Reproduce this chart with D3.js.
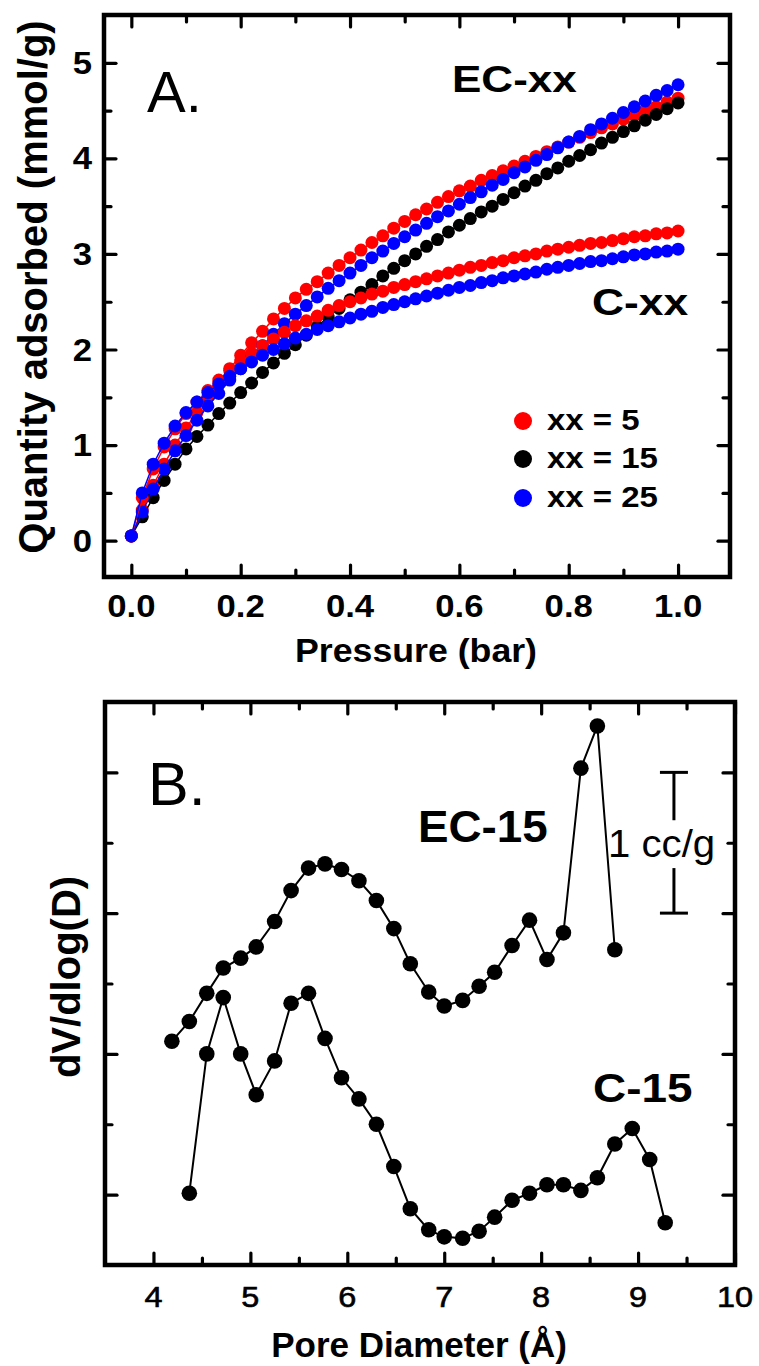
<!DOCTYPE html>
<html>
<head>
<meta charset="utf-8">
<script src="https://cdn.jsdelivr.net/npm/d3@7"></script>
<style>
  html, body { margin: 0; padding: 0; background: #fff; }
  svg { display: block; font-family: "Liberation Sans", Arial, Helvetica, sans-serif; }
</style>
</head>
<body>
<svg id="chart" width="759" height="1366"></svg>
<script>
// ---------- Panel A data (CO2 isotherms) ----------
const pressure = [0,0.02,0.04,0.06,0.08,0.10,0.12,0.14,0.16,0.18,0.20,0.22,0.24,0.26,0.28,0.30,0.32,0.34,0.36,0.38,0.40,0.42,0.44,0.46,0.48,0.50,0.52,0.54,0.56,0.58,0.60,0.62,0.64,0.66,0.68,0.70,0.72,0.74,0.76,0.78,0.80,0.82,0.84,0.86,0.88,0.90,0.92,0.94,0.96,0.98,1.00];
const ec5  = [0.05,0.32,0.58,0.80,1.00,1.18,1.34,1.50,1.65,1.80,1.94,2.07,2.19,2.32,2.43,2.54,2.63,2.71,2.80,2.88,2.96,3.04,3.12,3.19,3.27,3.34,3.41,3.47,3.54,3.60,3.66,3.71,3.77,3.82,3.87,3.92,3.97,4.02,4.07,4.12,4.17,4.22,4.27,4.32,4.36,4.41,4.45,4.50,4.54,4.59,4.63];
const ec15 = [0.05,0.25,0.45,0.63,0.80,0.96,1.09,1.21,1.33,1.44,1.55,1.65,1.76,1.86,1.96,2.05,2.15,2.24,2.34,2.43,2.52,2.60,2.68,2.77,2.85,2.93,3.00,3.08,3.15,3.23,3.30,3.37,3.44,3.50,3.57,3.64,3.71,3.77,3.84,3.90,3.97,4.03,4.09,4.16,4.22,4.28,4.34,4.40,4.46,4.52,4.58];
const ec25 = [0.05,0.30,0.54,0.75,0.94,1.10,1.26,1.41,1.54,1.68,1.80,1.92,2.04,2.16,2.27,2.37,2.46,2.55,2.64,2.72,2.80,2.88,2.96,3.03,3.11,3.18,3.25,3.32,3.39,3.45,3.52,3.59,3.65,3.72,3.78,3.85,3.91,3.98,4.04,4.11,4.17,4.23,4.30,4.36,4.42,4.48,4.54,4.60,4.66,4.71,4.77];
const c5   = [0.05,0.45,0.75,0.98,1.17,1.33,1.45,1.57,1.68,1.78,1.88,1.96,2.04,2.11,2.18,2.25,2.30,2.35,2.41,2.46,2.50,2.54,2.58,2.61,2.65,2.68,2.71,2.74,2.77,2.80,2.83,2.86,2.88,2.91,2.93,2.96,2.98,3.00,3.03,3.05,3.07,3.09,3.11,3.12,3.14,3.16,3.18,3.19,3.21,3.22,3.24];
const c25  = [0.05,0.50,0.80,1.02,1.20,1.34,1.45,1.55,1.64,1.72,1.80,1.87,1.94,2.00,2.06,2.12,2.16,2.21,2.25,2.29,2.33,2.37,2.40,2.44,2.47,2.50,2.53,2.56,2.59,2.62,2.65,2.67,2.70,2.72,2.75,2.77,2.79,2.81,2.84,2.86,2.88,2.90,2.92,2.93,2.95,2.97,2.99,3.00,3.02,3.03,3.05];
const seriesNamesA = ["EC-5","EC-15","EC-25","C-5","C-25"];
const seriesColorsA = ["#ff0000","#000000","#0000ff","#ff0000","#0000ff"];
const legendLabels = ["xx = 5","xx = 15","xx = 25"];
const legendColors = ["#ff0000","#000000","#0000ff"];
const xTicksA = ["0.0","0.2","0.4","0.6","0.8","1.0"];
const yTicksA = ["0","1","2","3","4","5"];

// ---------- Panel B data (pore size distribution) ----------
const ecDiam = [4.19,4.37,4.55,4.72,4.90,5.06,5.25,5.42,5.60,5.77,5.94,6.12,6.30,6.48,6.65,6.84,7.00,7.19,7.36,7.52,7.70,7.88,8.06,8.23,8.41,8.58,8.76];
const ecPsd  = [1.09,1.23,1.43,1.61,1.68,1.76,1.94,2.16,2.32,2.35,2.31,2.23,2.09,1.89,1.64,1.44,1.34,1.38,1.48,1.58,1.77,1.95,1.67,1.86,3.03,3.33,1.74];
const cDiam  = [4.37,4.55,4.72,4.90,5.06,5.25,5.42,5.60,5.77,5.94,6.12,6.30,6.48,6.65,6.84,7.00,7.19,7.36,7.52,7.70,7.88,8.06,8.23,8.41,8.58,8.76,8.94,9.12,9.28];
const cPsd   = [0.01,1.00,1.40,1.00,0.71,0.95,1.36,1.43,1.11,0.83,0.68,0.50,0.20,-0.10,-0.25,-0.30,-0.31,-0.26,-0.16,-0.04,0.01,0.07,0.07,0.03,0.12,0.36,0.47,0.25,-0.20];
const xTicksB = ["4","5","6","7","8","9","10"];

// ---------- drawing ----------
const svg = d3.select("#chart");
svg.append("rect").attr("width",759).attr("height",1366).attr("fill","#fff");

function drawFrame(g, x, y, xMajor, xMinor, yMajor, yMinor) {
  const [x0, x1] = x.range();
  const [y0, y1] = y.range();
  const tw = 3.2, maj = 12, min = 7;
  const clean = s => s.call(a => a.select(".domain").remove())
                      .call(a => a.selectAll("line").attr("stroke","#000").attr("stroke-width",tw).attr("stroke-linecap","round"));
  g.append("g").attr("transform",`translate(0,${y0})`).call(d3.axisBottom(x).tickValues(xMajor).tickSize(-maj).tickFormat("")).call(clean);
  g.append("g").attr("transform",`translate(0,${y0})`).call(d3.axisBottom(x).tickValues(xMinor).tickSize(-min).tickFormat("")).call(clean);
  g.append("g").attr("transform",`translate(0,${y1})`).call(d3.axisTop(x).tickValues(xMajor).tickSize(-maj).tickFormat("")).call(clean);
  g.append("g").attr("transform",`translate(0,${y1})`).call(d3.axisTop(x).tickValues(xMinor).tickSize(-min).tickFormat("")).call(clean);
  g.append("g").attr("transform",`translate(${x0},0)`).call(d3.axisLeft(y).tickValues(yMajor).tickSize(-maj).tickFormat("")).call(clean);
  g.append("g").attr("transform",`translate(${x0},0)`).call(d3.axisLeft(y).tickValues(yMinor).tickSize(-min).tickFormat("")).call(clean);
  g.append("g").attr("transform",`translate(${x1},0)`).call(d3.axisRight(y).tickValues(yMajor).tickSize(-maj).tickFormat("")).call(clean);
  g.append("g").attr("transform",`translate(${x1},0)`).call(d3.axisRight(y).tickValues(yMinor).tickSize(-min).tickFormat("")).call(clean);
  g.append("rect").attr("x",x0).attr("y",y1).attr("width",x1-x0).attr("height",y0-y1)
    .attr("fill","none").attr("stroke","#000").attr("stroke-width",4.5);
}

function stretchText(g, txt, x, y, size, weight, sx, anchor) {
  return g.append("text")
    .attr("transform",`translate(${x},${y}) scale(${sx},1)`)
    .attr("text-anchor", anchor || "start")
    .attr("font-size", size).attr("font-weight", weight).attr("fill","#000")
    .text(txt);
}

// ===== Panel A =====
const gA = svg.append("g");
const xA = d3.scaleLinear().domain([-0.05, 1.095]).range([104, 730]);
const yA = d3.scaleLinear().domain([-0.38, 5.5]).range([577, 15]);

const seriesA = [ec5, ec15, ec25, c5, c25];
const lineA = d3.line().x((d,i) => xA(pressure[i])).y(d => yA(d));
seriesA.forEach((s, k) => {
  const sg = gA.append("g").attr("class","series").attr("data-name", seriesNamesA[k]);
  sg.append("path").datum(s).attr("d", lineA).attr("fill","none")
    .attr("stroke", seriesColorsA[k]).attr("stroke-width",1.5);
  sg.selectAll("circle").data(s).join("circle")
    .attr("cx",(d,i) => xA(pressure[i])).attr("cy", d => yA(d)).attr("r",6.5)
    .attr("fill", seriesColorsA[k]);
});

drawFrame(gA, xA, yA, xTicksA.map(Number), [0.1,0.3,0.5,0.7,0.9], yTicksA.map(Number), [0.5,1.5,2.5,3.5,4.5]);

// tick labels A
gA.selectAll(".xlabA").data(xTicksA).join("text")
  .attr("transform", d => `translate(${xA(+d)},617) scale(1.12,1)`)
  .attr("text-anchor","middle").attr("font-size",31).attr("font-weight","bold").text(d => d);
gA.selectAll(".ylabA").data(yTicksA).join("text")
  .attr("transform", d => `translate(92,${yA(+d)+11}) scale(1.12,1)`)
  .attr("text-anchor","end").attr("font-size",31).attr("font-weight","bold").text(d => d);

// axis titles A
gA.append("text").attr("transform","translate(416,662)").attr("text-anchor","middle")
  .attr("font-size",34).attr("font-weight","bold").attr("textLength",242).attr("lengthAdjust","spacingAndGlyphs")
  .text("Pressure (bar)");
gA.append("text").attr("transform","translate(47,287) rotate(-90)").attr("text-anchor","middle")
  .attr("font-size",40).attr("font-weight","bold").text("Quantity adsorbed (mmol/g)");

// annotations A
gA.append("text").attr("x",147).attr("y",112).attr("font-size",58).text("A.");
stretchText(gA, "EC-xx", 452, 92, 37, "bold", 1.19);
stretchText(gA, "C-xx", 592, 315, 37, "bold", 1.2);

// legend A
const legY = [421, 459, 498];
const leg = gA.append("g");
leg.selectAll("circle").data(legendLabels).join("circle")
  .attr("cx",523).attr("cy",(d,i) => legY[i]).attr("r",9).attr("fill",(d,i) => legendColors[i]);
leg.selectAll("text").data(legendLabels).join("text")
  .attr("transform",(d,i) => `translate(547,${legY[i]+9}) scale(1.1,1)`)
  .attr("font-size",30).attr("font-weight","bold").text(d => d);

// ===== Panel B =====
const gB = svg.append("g");
const xB = d3.scaleLinear().domain([3.5, 10]).range([105, 735]);
const yB = d3.scaleLinear().domain([-0.5, 3.5]).range([1265, 702]);
const lineB = (xs) => d3.line().x((d,i) => xB(xs[i])).y(d => yB(d));

[[ecDiam, ecPsd, "EC-15"], [cDiam, cPsd, "C-15"]].forEach(([xs, ys, name]) => {
  const sg = gB.append("g").attr("class","series").attr("data-name", name);
  sg.append("path").datum(ys).attr("d", lineB(xs)).attr("fill","none").attr("stroke","#000").attr("stroke-width",2);
  sg.selectAll("circle").data(ys).join("circle")
    .attr("cx",(d,i) => xB(xs[i])).attr("cy", d => yB(d)).attr("r",7.8).attr("fill","#000");
});

drawFrame(gB, xB, yB, xTicksB.map(Number), [4.5,5.5,6.5,7.5,8.5,9.5], [0,1,2,3], [0.5,1.5,2.5]);

gB.selectAll(".xlabB").data(xTicksB).join("text")
  .attr("transform", d => `translate(${xB(+d)},1307) scale(1.12,1)`)
  .attr("text-anchor","middle").attr("font-size",29)
  .attr("stroke","#000").attr("stroke-width",0.6).text(d => d);

gB.append("text").attr("x",419).attr("y",1357).attr("text-anchor","middle")
  .attr("font-size",35).attr("font-weight","bold").text("Pore Diameter (Å)");
gB.append("text").attr("transform","translate(80,977) rotate(-90)").attr("text-anchor","middle")
  .attr("font-size",40).attr("font-weight","bold").text("dV/dlog(D)");

gB.append("text").attr("x",148).attr("y",805).attr("font-size",61).text("B.");
stretchText(gB, "EC-15", 418, 842, 44, "bold", 1.04);
stretchText(gB, "C-15", 593, 1102, 41, "bold", 1.12);

// scale bar 1 cc/g
const sbX = xB(9.37);
const sb = gB.append("g").attr("stroke","#000").attr("stroke-width",3);
sb.append("line").attr("x1",sbX).attr("x2",sbX).attr("y1",yB(3)).attr("y2",yB(2.66));
sb.append("line").attr("x1",sbX).attr("x2",sbX).attr("y1",yB(2.32)).attr("y2",yB(2));
sb.append("line").attr("x1",sbX-14).attr("x2",sbX+14).attr("y1",yB(3)).attr("y2",yB(3));
sb.append("line").attr("x1",sbX-14).attr("x2",sbX+14).attr("y1",yB(2)).attr("y2",yB(2));
stretchText(gB, "1 cc/g", 608, 857, 39, "normal", 1.03);
</script>
</body>
</html>
